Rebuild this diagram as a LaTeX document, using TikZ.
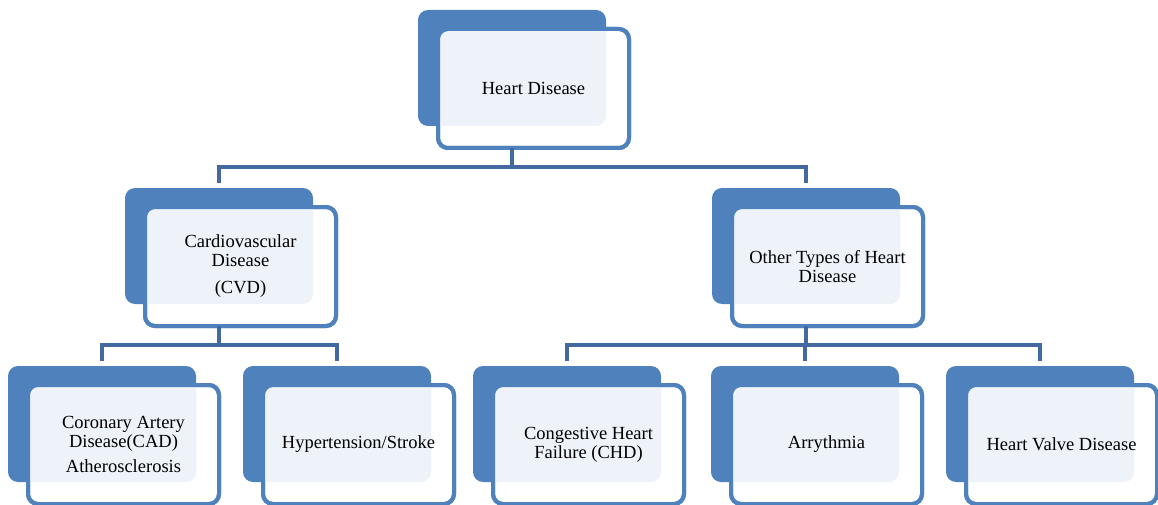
\documentclass[tikz,border=0pt]{standalone}
\usepackage{fontspec}
\setmainfont{Liberation Serif}
\usetikzlibrary{calc}
\definecolor{hdblue}{HTML}{4F81BD}
\definecolor{hdlight}{HTML}{EEF2F9}
\definecolor{hdconn}{HTML}{4369A0}
\tikzset{
 backbox/.style={rectangle, fill=hdblue, rounded corners=10pt, minimum width=188pt, minimum height=116pt, inner sep=0pt, outer sep=0pt},
 frontbox/.style={rectangle, fill=white, draw=hdblue, line width=4pt, rounded corners=10pt, minimum width=191pt, minimum height=119pt, inner sep=0pt, outer sep=0pt},
 frontline/.style={draw=hdblue, line width=4pt, rounded corners=10pt},
 lbl/.style={align=center, font=\fontsize{18.5}{19}\selectfont, text=black, inner sep=0pt},
 conn/.style={draw=hdconn, line width=4.5pt, line join=miter}
}
\newcommand{\diseasebox}[4]{%
 \node[backbox, anchor=north west] (#1b) at (#2,#3) {};
 \node[frontbox, anchor=north west] (#1f) at ($(#1b.north west)+(20,19)$) {};
 \begin{scope}
  \clip[rounded corners=8pt] ($(#1f.south west)+(2,-2)$) rectangle ($(#1f.north east)+(-2,2)$);
  \fill[hdlight, rounded corners=10pt] (#1b.south west) rectangle (#1b.north east);
 \end{scope}
 \draw[frontline] (#1f.south west) rectangle (#1f.north east);
 \node[lbl] (#1t) at (#1f.center) {#4};
}
\begin{document}
\begin{tikzpicture}[x=1pt,y=-1pt]
\fill[white] (0,0) rectangle (1158,505);
\useasboundingbox (0,0) rectangle (1158,505);

\diseasebox{top}{418}{10}{Heart Disease}
\diseasebox{cvd}{125}{188}{Cardiovascular\\Disease\\[8pt](CVD)}
\diseasebox{oth}{712}{188}{Other Types of Heart\\Disease}
\diseasebox{cad}{8}{366}{Coronary Artery\\Disease(CAD)\\[6pt]Atherosclerosis}
\diseasebox{hyp}{243}{366}{Hypertension/Stroke}
\diseasebox{chd}{473}{366}{Congestive Heart\\Failure (CHD)}
\diseasebox{arr}{711}{366}{Arrythmia}
\diseasebox{hvd}{946}{366}{Heart Valve Disease}

% connectors
\draw[conn] (topb.center |- topf.south) -- ++(0,19) coordinate (j0);
\draw[conn] ($(cvdb.north)+(0,-5)$) -- (j0 -| cvdb.north) -- (j0 -| othb.north) -- ($(othb.north)+(0,-5)$);

\draw[conn] (cvdb.center |- cvdf.south) -- ++(0,19) coordinate (j1);
\draw[conn] ($(cadb.north)+(0,-5)$) -- (j1 -| cadb.north) -- (j1 -| hypb.north) -- ($(hypb.north)+(0,-5)$);

\draw[conn] (othb.center |- othf.south) -- ++(0,19) coordinate (j2);
\draw[conn] ($(chdb.north)+(0,-5)$) -- (j2 -| chdb.north) -- (j2 -| hvdb.north) -- ($(hvdb.north)+(0,-5)$);
\draw[conn] (j2 -| arrb.north) -- ($(arrb.north)+(0,-5)$);
\end{tikzpicture}
\end{document}
